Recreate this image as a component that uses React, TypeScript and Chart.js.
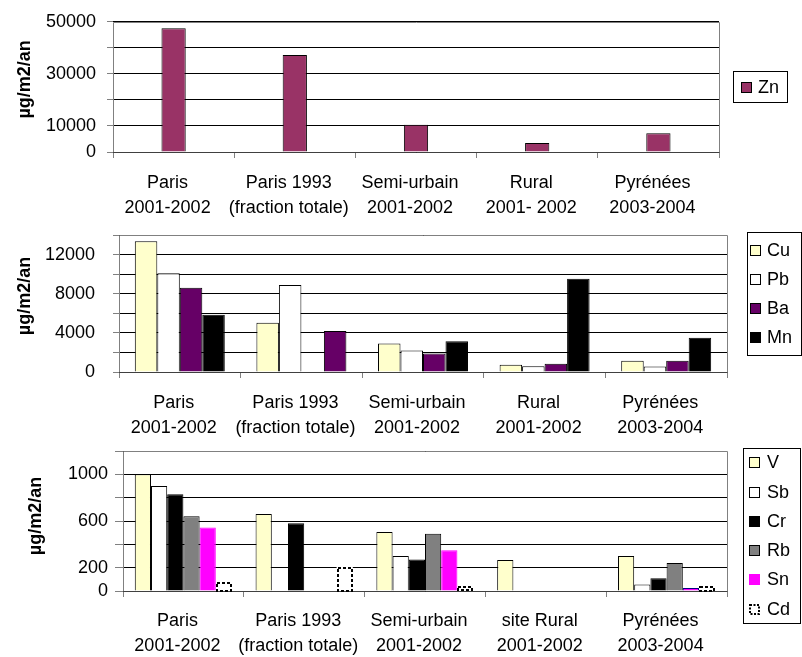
import React, { useEffect, useRef } from 'react';
import { Chart, registerables } from 'chart.js';

Chart.register(...registerables);
Chart.defaults.font.family = "'Liberation Sans', Arial, sans-serif";
Chart.defaults.color = '#000';

// ---------- Data ----------
const zincCategories = [
  ['Paris', '2001-2002'],
  ['Paris 1993', '(fraction totale)'],
  ['Semi-urbain', '2001-2002'],
  ['Rural', '2001- 2002'],
  ['Pyrénées', '2003-2004'],
];
const znValues = [47500, 37250, 10500, 3500, 7200];
const zincTickLabels = [0, 10000, 30000, 50000];

const majorCategories = [
  ['Paris', '2001-2002'],
  ['Paris 1993', '(fraction totale)'],
  ['Semi-urbain', '2001-2002'],
  ['Rural', '2001-2002'],
  ['Pyrénées', '2003-2004'],
];
const cuValues = [13370, 5040, 2900, 750, 1150];
const pbValues = [10100, 8900, 2200, 600, 550];
const baValues = [8600, null, 1880, 850, 1150];
const mnValues = [5860, 4200, 3130, 9530, 3510];
const majorTickLabels = [0, 4000, 8000, 12000];

const traceCategories = [
  ['Paris', '2001-2002'],
  ['Paris 1993', '(fraction totale)'],
  ['Semi-urbain', '2001-2002'],
  ['site Rural', '2001-2002'],
  ['Pyrénées', '2003-2004'],
];
const vValues = [1000, 660, 505, 265, 300];
const sbValues = [900, null, 300, null, 55];
const crValues = [830, 580, 270, null, 110];
const rbValues = [640, null, 490, null, 240];
const snValues = [545, null, 350, null, 25];
const cdValues = [80, 210, 40, null, 45];
const traceTickLabels = [0, 200, 600, 1000];

const Y_TITLE = 'µg/m2/an';

// ---------- Layout ----------
const W = 802;
const H = 657;

// ---------- Plugins ----------
const plotFrame = {
  id: 'plotFrame',
  afterDatasetsDraw(chart: any) {
    const { ctx, chartArea: a } = chart;
    const L = Math.round(a.left) + 0.5;
    const R = Math.round(a.right) + 0.5;
    const T = Math.round(a.top) + 0.5;
    const B = Math.round(a.bottom) + 0.5;
    ctx.save();
    ctx.lineWidth = 1;
    ctx.strokeStyle = '#808080';
    ctx.beginPath();
    ctx.moveTo(L, B);
    ctx.lineTo(L, T);
    ctx.lineTo(R, T);
    ctx.lineTo(R, B);
    ctx.stroke();
    ctx.strokeStyle = '#404040';
    ctx.beginPath();
    ctx.moveTo(L, B);
    ctx.lineTo(R, B);
    ctx.stroke();
    ctx.restore();
  },
};

const dashedBars = {
  id: 'dashedBars',
  afterDatasetsDraw(chart: any) {
    const ctx = chart.ctx;
    chart.data.datasets.forEach((ds: any, i: number) => {
      if (!ds.dashed) return;
      const meta = chart.getDatasetMeta(i);
      ctx.save();
      ctx.strokeStyle = '#000';
      ctx.lineWidth = 2;
      ctx.setLineDash([3, 2]);
      meta.data.forEach((el: any, j: number) => {
        if (ds.data[j] == null) return;
        const p = el.getProps(['x', 'y', 'base', 'width'], true);
        const l = p.x - p.width / 2;
        const r = p.x + p.width / 2;
        const t = Math.min(p.y, p.base);
        const b = Math.max(p.y, p.base);
        ctx.strokeRect(Math.round(l) + 1, Math.round(t) + 1, Math.round(r - l) - 2, Math.round(b - t) - 1);
      });
      ctx.restore();
    });
  },
};

const boxedLegend = {
  id: 'boxedLegend',
  afterDraw(chart: any, _args: any, opts: any) {
    const { ctx } = chart;
    const { x, y, w, h, step, swatchDx, textDx } = opts;
    ctx.save();
    ctx.fillStyle = '#fff';
    ctx.fillRect(x, y, w, h);
    ctx.strokeStyle = '#000';
    ctx.lineWidth = 1;
    ctx.strokeRect(x + 0.5, y + 0.5, w, h);
    const ds = chart.data.datasets;
    const n = ds.length;
    const cy0 = y + h / 2 - ((n - 1) * step) / 2;
    ds.forEach((d: any, i: number) => {
      const cy = Math.round(cy0 + i * step);
      const fill = Array.isArray(d.backgroundColor) ? d.backgroundColor[0] : d.backgroundColor;
      const stroke = Array.isArray(d.borderColor) ? d.borderColor[0] : d.borderColor || '#000';
      const sx = x + swatchDx;
      const sy = cy - 5;
      ctx.fillStyle = fill;
      ctx.fillRect(sx, sy, 10, 10);
      if (d.dashed) {
        ctx.setLineDash([2, 1.5]);
        ctx.lineWidth = 2;
        ctx.strokeStyle = '#000';
        ctx.strokeRect(sx + 1, sy + 1, 9, 9);
        ctx.setLineDash([]);
      } else {
        ctx.lineWidth = 1;
        ctx.strokeStyle = stroke;
        ctx.strokeRect(sx + 0.5, sy + 0.5, 10, 10);
      }
      ctx.fillStyle = '#000';
      ctx.font = "18px 'Liberation Sans', Arial, sans-serif";
      ctx.textBaseline = 'middle';
      ctx.textAlign = 'left';
      ctx.fillText(d.label, x + textDx, cy + 1);
    });
    ctx.restore();
  },
};

// ---------- Config builder ----------
function buildConfig(p: any) {
  return {
    type: 'bar',
    data: { labels: p.labels, datasets: p.datasets },
    plugins: [plotFrame, dashedBars, boxedLegend],
    options: {
      responsive: false,
      animation: false,
      devicePixelRatio: 1,
      events: [],
      layout: {
        padding: {
          left: 0,
          top: p.area.top,
          right: W - p.area.right,
          bottom: H - p.area.bottom - p.xH,
        },
      },
      plugins: {
        legend: { display: false },
        tooltip: { enabled: false },
        title: { display: false },
        boxedLegend: p.legend,
      },
      scales: {
        x: {
          offset: true,
          grid: {
            offset: true,
            drawOnChartArea: false,
            drawTicks: true,
            tickLength: 6,
            color: '#808080',
            tickColor: '#808080',
          },
          border: { display: false },
          ticks: {
            autoSkip: false,
            maxRotation: 0,
            minRotation: 0,
            padding: p.xPad,
            labelOffset: -6,
            color: '#000',
            font: { size: 18, lineHeight: 1.36 },
          },
          afterFit: (s: any) => {
            s.height = p.xH;
          },
        },
        y: {
          min: 0,
          max: p.yMax,
          ticks: {
            stepSize: p.yStep,
            autoSkip: false,
            padding: p.tickPad,
            color: '#000',
            font: { size: 18 },
            callback: (v: number) => (p.yLabels.includes(v) ? String(v) : ''),
          },
          grid: {
            color: '#000',
            tickColor: '#808080',
            tickLength: p.tickLen,
            lineWidth: 1,
          },
          border: { display: false },
          title: {
            display: true,
            text: p.title,
            color: '#000',
            font: { size: 18, weight: 'bold' },
            padding: { top: p.titleX - 10.8, bottom: 0 },
          },
          afterFit: (s: any) => {
            s.width = p.area.left;
          },
        },
      },
    },
  };
}

const bar = (label: string, data: any[], bg: any, cat: number, extra: any = {}) => ({
  label,
  data,
  backgroundColor: bg,
  borderColor: '#000',
  borderWidth: 1,
  categoryPercentage: cat,
  barPercentage: 1,
  ...extra,
});

export default function App() {
  const r1 = useRef<HTMLCanvasElement>(null);
  const r2 = useRef<HTMLCanvasElement>(null);
  const r3 = useRef<HTMLCanvasElement>(null);

  useEffect(() => {
    const charts: Chart[] = [];

    charts.push(
      new Chart(r1.current as any, buildConfig({
        labels: zincCategories,
        datasets: [
          { label: 'Zn', data: znValues, backgroundColor: '#993366', borderColor: '#000', borderWidth: 1, categoryPercentage: 1, barPercentage: 0.2 },
        ],
        area: { left: 113, right: 719, top: 16, bottom: 152 },
        xH: 75,
        yMax: 50000,
        yStep: 10000,
        yLabels: zincTickLabels,
        tickLen: 6,
        tickPad: 11,
        xPad: 13,
        titleX: 25,
        title: '   ' + Y_TITLE,
        legend: { x: 733, y: 71, w: 54, h: 31, step: 29, swatchDx: 8, textDx: 25 },
      }) as any)
    );

    const c2 = 0.74;
    charts.push(
      new Chart(r2.current as any, buildConfig({
        labels: majorCategories,
        datasets: [
          bar('Cu', cuValues, '#FFFFCC', c2),
          bar('Pb', pbValues, '#FFFFFF', c2),
          bar('Ba', baValues, '#660066', c2),
          bar('Mn', mnValues, ['#000000', '#660066', '#000000', '#000000', '#000000'], c2),
        ],
        area: { left: 119, right: 727, top: 235, bottom: 372 },
        xH: 75,
        yMax: 14000,
        yStep: 2000,
        yLabels: majorTickLabels,
        tickLen: 6,
        tickPad: 18,
        xPad: 13,
        titleX: 25,
        title: '   ' + Y_TITLE,
        legend: { x: 747, y: 232, w: 54, h: 123, step: 29, swatchDx: 3, textDx: 20 },
      }) as any)
    );

    const c3 = 0.805;
    charts.push(
      new Chart(r3.current as any, buildConfig({
        labels: traceCategories,
        datasets: [
          bar('V', vValues, '#FFFFCC', c3),
          bar('Sb', sbValues, '#FFFFFF', c3),
          bar('Cr', crValues, '#000000', c3),
          bar('Rb', rbValues, '#808080', c3),
          bar('Sn', snValues, '#FF00FF', c3, { borderColor: ['#FF00FF', '#FF00FF', '#FF00FF', '#FF00FF', '#000080'] }),
          bar('Cd', cdValues, '#FFFFFF', c3, { borderWidth: 0, dashed: true }),
        ],
        area: { left: 123, right: 727, top: 451, bottom: 591 },
        xH: 66,
        yMax: 1200,
        yStep: 200,
        yLabels: traceTickLabels,
        tickLen: 8,
        tickPad: 7,
        xPad: 12,
        titleX: 36,
        title: '  ' + Y_TITLE,
        legend: { x: 743, y: 448, w: 57, h: 175, step: 29.3, swatchDx: 6, textDx: 24 },
      }) as any)
    );

    return () => {
      charts.forEach((c) => c.destroy());
    };
  }, []);

  const cStyle: React.CSSProperties = { position: 'absolute', left: 0, top: 0, width: W, height: H };
  return (
    <div style={{ position: 'absolute', left: 0, top: 0, width: W, height: H, background: '#fff', overflow: 'hidden' }}>
      <canvas ref={r1} width={W} height={H} style={cStyle} />
      <canvas ref={r2} width={W} height={H} style={cStyle} />
      <canvas ref={r3} width={W} height={H} style={cStyle} />
    </div>
  );
}
